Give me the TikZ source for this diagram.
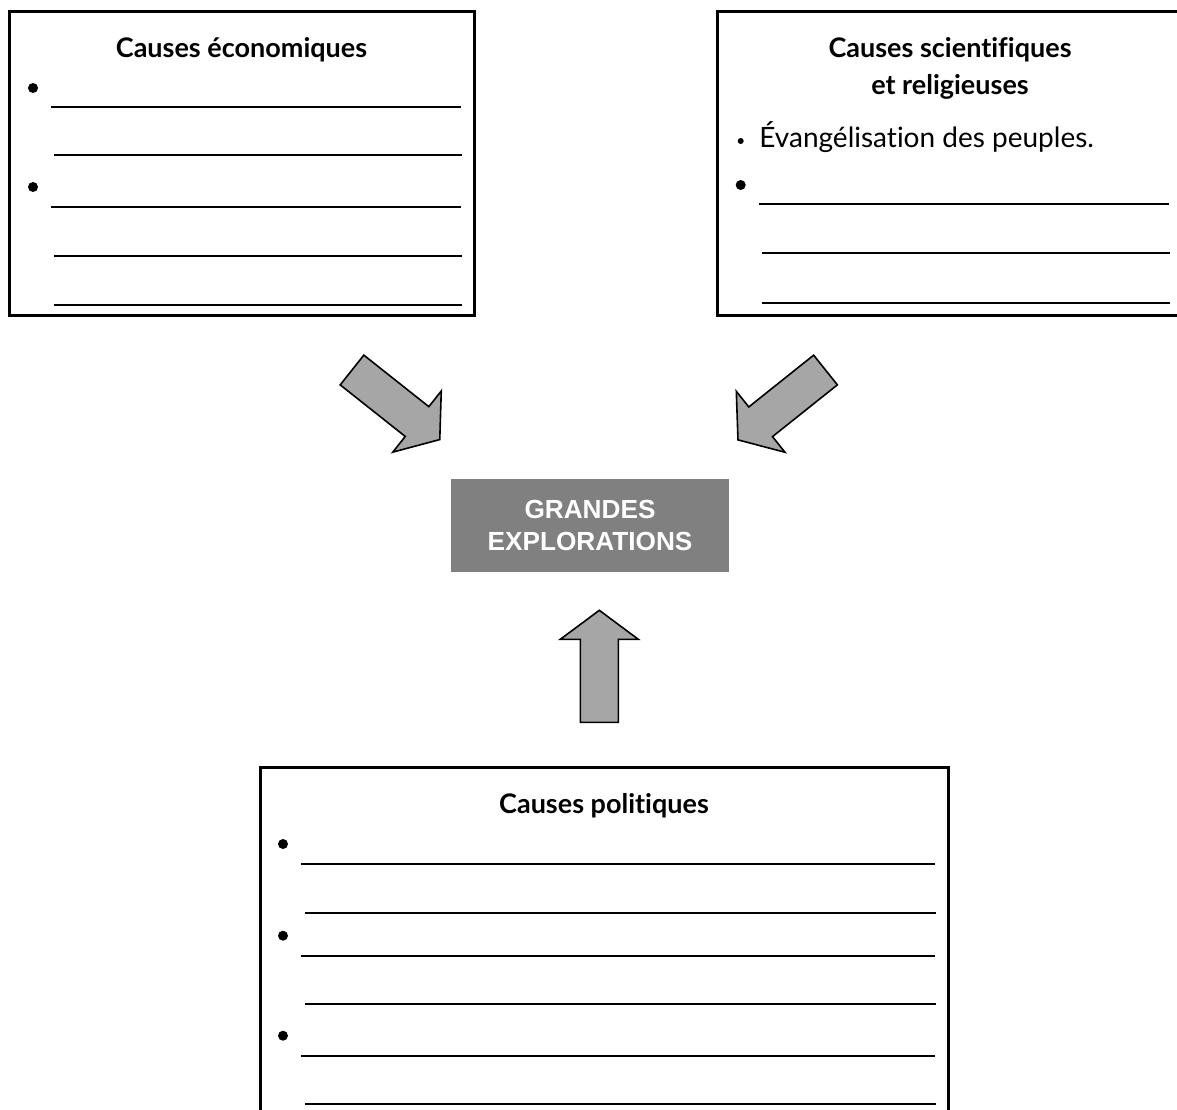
\documentclass[tikz,border=0pt]{standalone}
\usepackage{fontspec}
\setmainfont{Lato}[Ligatures=NoCommon]
\newfontfamily\arial{Liberation Sans}
\usepackage{tikz}
\usetikzlibrary{calc}
\definecolor{grisfonce}{HTML}{808080}
\definecolor{grisclair}{HTML}{A6A6A6}
\newcommand{\flecheBloc}[2]{
\draw[bloc, shift={(#1)}, rotate=#2] (0,-19) -- (83,-19) -- (83,-39) -- (112,0) -- (83,39) -- (83,19) -- (0,19) -- cycle;
}

\begin{document}
\begin{tikzpicture}[x=0.5pt, y=-0.5pt,
    cadre/.style = {line width=1.5pt},
    ligne/.style = {line width=1.2pt},
    bloc/.style = {draw=black, line width=0.8pt, fill=grisclair, line join=miter},
    titre/.style = {anchor=base, inner sep=0pt, font=\bfseries\fontsize{13.5}{15}\selectfont},
    texte/.style = {anchor=base west, inner sep=0pt, font=\fontsize{14}{16}\selectfont},
    centre/.style = {fill=grisfonce, text=white, align=center, inner sep=0pt,
        minimum width=139pt, minimum height=46.5pt,
        font=\arial\bfseries\fontsize{13.1}{16}\selectfont}]
    % Parametri
    \pgfmathsetmacro{\puce}{2.5}
    \pgfmathsetmacro{\petitepuce}{1.5}
    \useasboundingbox (0,0) rectangle (1177,1109);
    % Causes economiques
    \draw[cadre] (9,11) rectangle (474,315);
    \node[titre] (titreEco) at (241.5,57) {Causes économiques};
    \fill (33,88) circle (\puce pt);
    \fill (33,187) circle (\puce pt);
    \draw[ligne] (51,107) -- (461,107);
    \draw[ligne] (54,155) -- (462,155);
    \draw[ligne] (51,207) -- (461,207);
    \draw[ligne] (54,256) -- (462,256);
    \draw[ligne] (54,305) -- (462,305);
    % Causes scientifiques et religieuses
    \draw[cadre] (717,11) rectangle (1190,315);
    \node[titre] (titreSci) at (950,57) {Causes scientifiques};
    \node[titre] (titreRel) at (950,94) {et religieuses};
    \fill (740.7,141) circle (\petitepuce pt);
    \node[texte] (evang) at (759,147) {Évangélisation des peuples.};
    \fill (740.7,185) circle (\puce pt);
    \draw[ligne] (759,204) -- (1169,204);
    \draw[ligne] (762,253) -- (1170,253);
    \draw[ligne] (762,303) -- (1170,303);
    % Grandes explorations
    \node[centre] (explo) at (590,525.5) {GRANDES\\EXPLORATIONS};
    % Fleches
    \flecheBloc{352,370}{-38.4}
    \flecheBloc{825.5,370}{218.6}
    \flecheBloc{599.3,722.3}{90}
    % Causes politiques
    \draw[cadre] (260,767) rectangle (948,1130);
    \node[titre] (titrePol) at (604,813) {Causes politiques};
    \fill (283,844) circle (\puce pt);
    \fill (283,935.7) circle (\puce pt);
    \fill (283,1035.7) circle (\puce pt);
    \draw[ligne] (301,864) -- (935,864);
    \draw[ligne] (305,913) -- (936,913);
    \draw[ligne] (301,956) -- (935,956);
    \draw[ligne] (305,1004) -- (936,1004);
    \draw[ligne] (301,1056) -- (935,1056);
    \draw[ligne] (305,1104) -- (936,1104);
\end{tikzpicture}
\end{document}
